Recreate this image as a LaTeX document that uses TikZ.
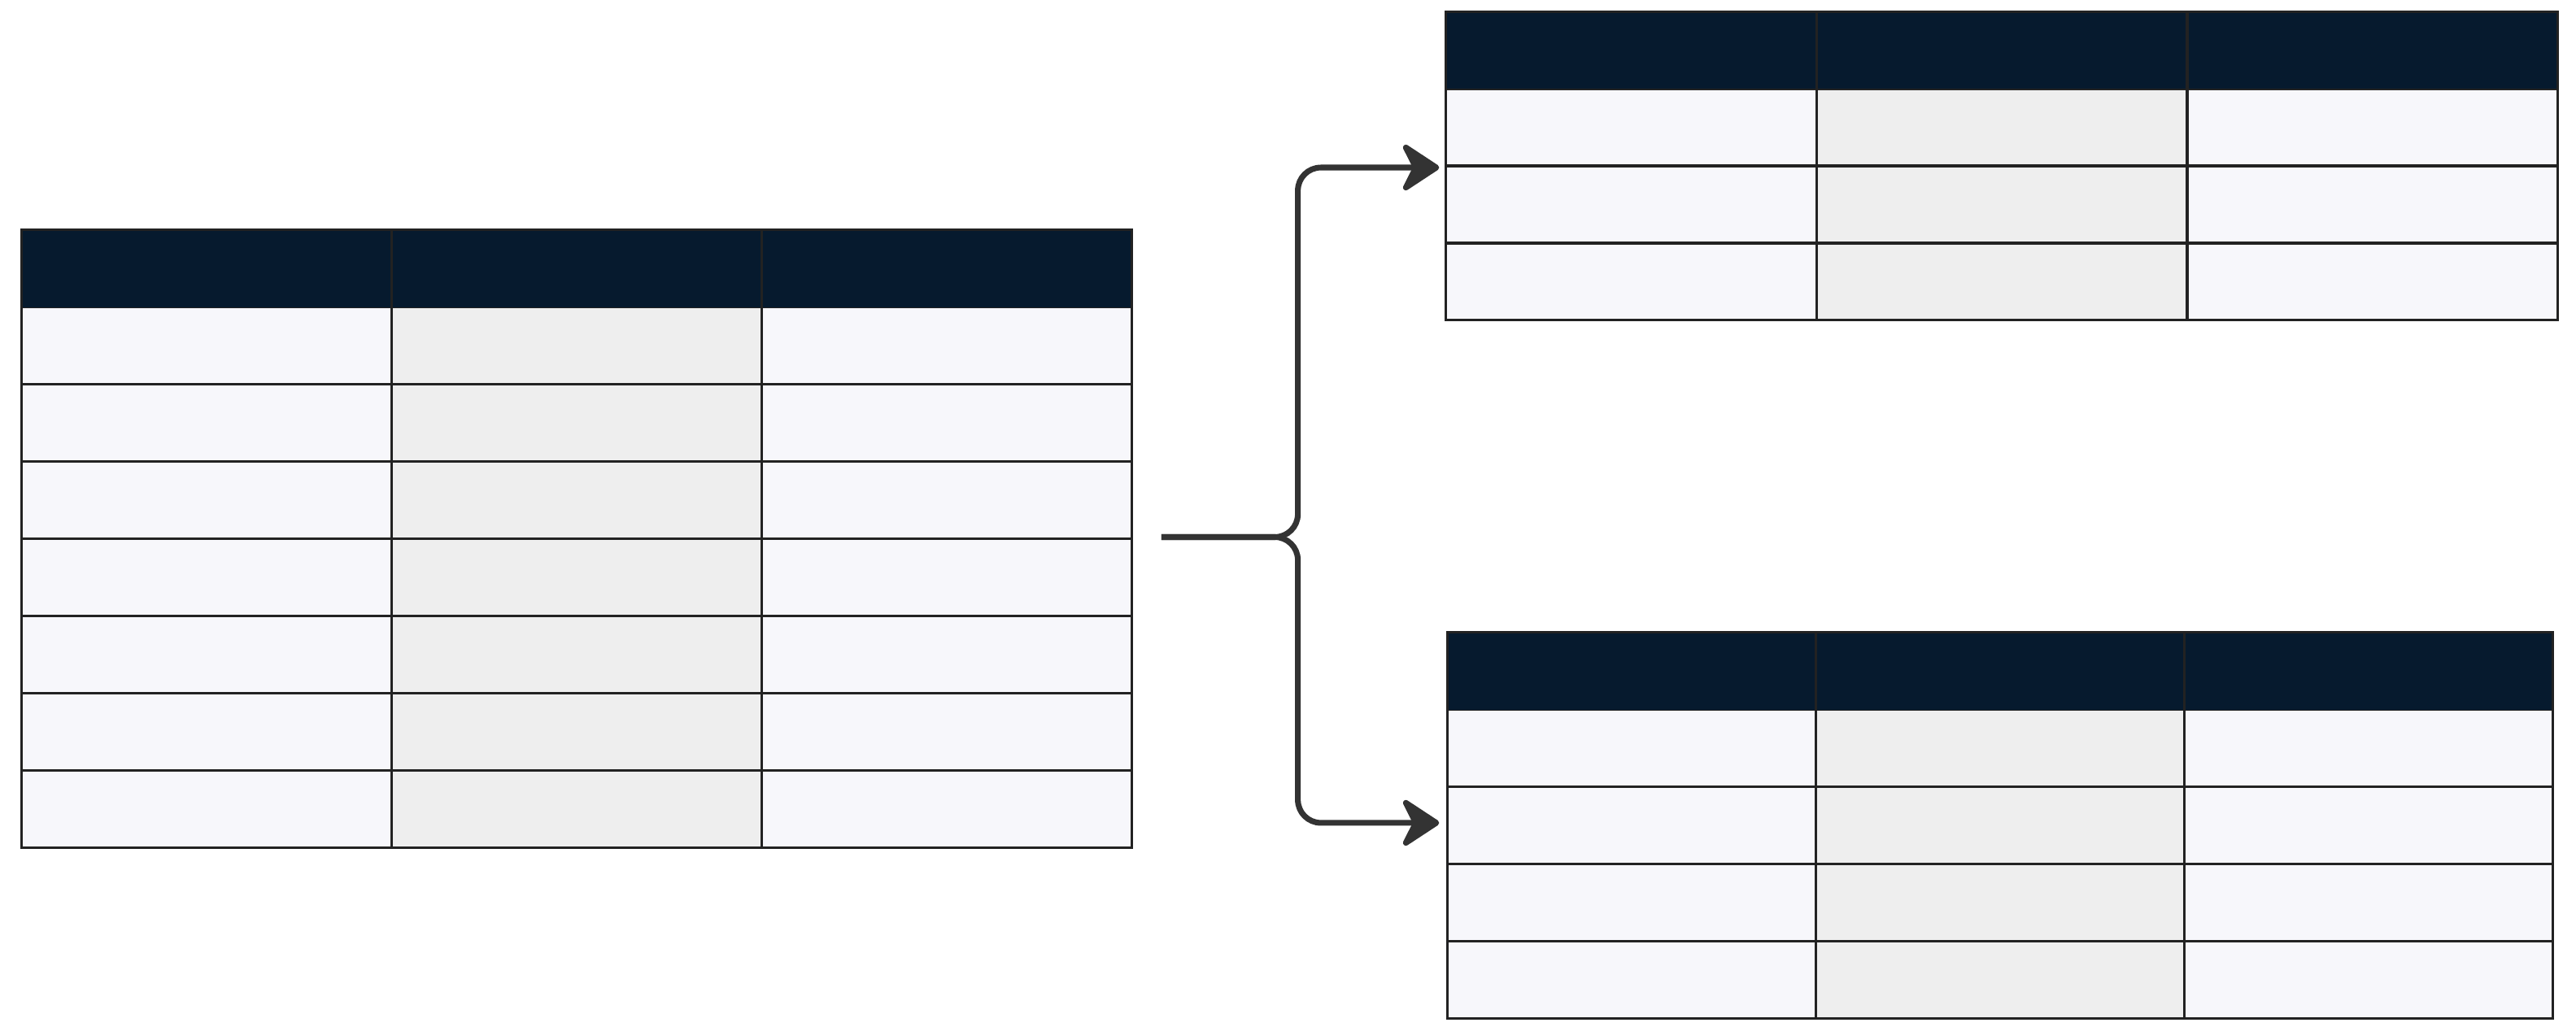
\documentclass[tikz,border=0pt]{standalone}
\usetikzlibrary{arrows.meta}
\definecolor{hdr}{HTML}{061A2E}
\definecolor{cella}{HTML}{F7F7FB}
\definecolor{cellb}{HTML}{EEEEEE}
\definecolor{edge}{HTML}{222222}
\definecolor{conn}{HTML}{333333}
\tikzset{grid/.style={draw=edge,line width=1.6pt},
 link/.style={draw=conn,line width=3.5pt,rounded corners=14pt,-{Stealth[length=26pt,width=34pt,round]}}}
\newcommand{\mytable}[5]{% x0,y0,width,rows,name
 \pgfmathsetmacro{\cw}{#3/3}
 \foreach \r in {1,...,#4}{
  \fill[cella] (#1,#2+47*\r) rectangle ++(\cw,47);
  \fill[cellb] (#1+\cw,#2+47*\r) rectangle ++(\cw,47);
  \fill[cella] (#1+2*\cw,#2+47*\r) rectangle ++(\cw,47);
  \draw[grid] (#1,#2+47*\r) -- ++(#3,0);}
 \fill[hdr] (#1,#2) rectangle ++(#3,47);
 \draw[grid] (#1+\cw,#2) -- ++(0,47*#4+47);
 \draw[grid] (#1+2*\cw,#2) -- ++(0,47*#4+47);
 \draw[grid] (#1,#2) rectangle ++(#3,47*#4+47);
 \coordinate (#5w) at (#1,#2+23.5*#4+23.5);
}
\begin{document}
\begin{tikzpicture}[x=1pt,y=-1pt]
\useasboundingbox (0,0) rectangle (1568,625);
\mytable{13}{140}{676}{7}{L}
\mytable{880}{7}{677}{3}{A}
\mytable{881}{385}{673}{4}{B}
\coordinate (s) at (707,327);
\coordinate (ta) at (876,102);
\coordinate (tb) at (876,501);
\draw[link] (s) -- (790,327) -- (790,102) -- (ta);
\draw[link] (s) -- (790,327) -- (790,501) -- (tb);
\end{tikzpicture}
\end{document}
